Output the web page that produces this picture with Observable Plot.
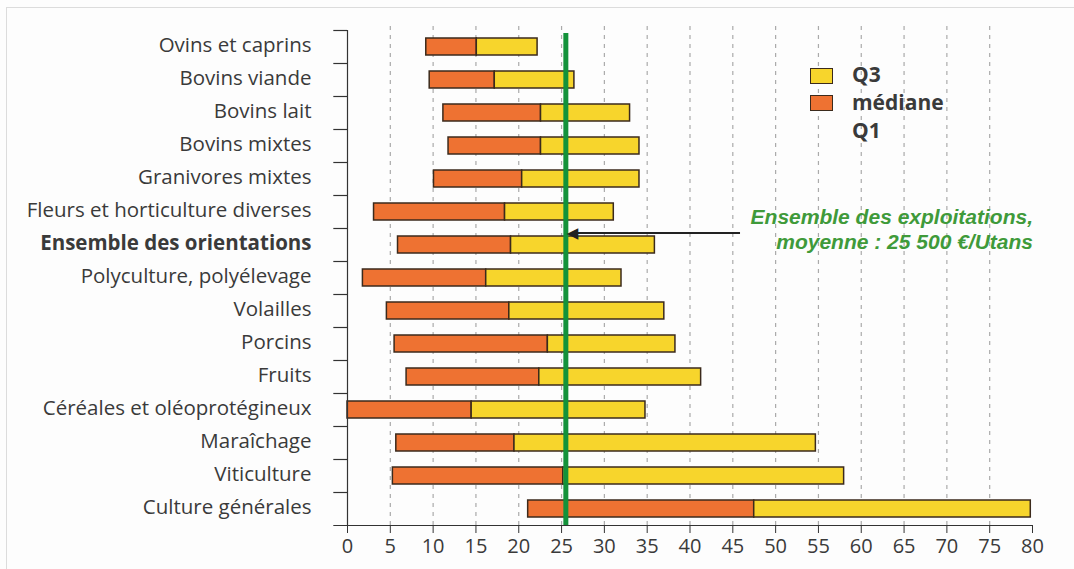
<!DOCTYPE html>
<html>
<head>
<meta charset="utf-8">
<script src="https://cdn.jsdelivr.net/npm/d3@7"></script>
<script src="https://cdn.jsdelivr.net/npm/@observablehq/plot@0.6"></script>
<style>
  html, body { margin: 0; padding: 0; background: #fdfdfd; }
  #wrap { position: relative; width: 1074px; height: 569px; overflow: hidden; font-family: "Open Sans", sans-serif; }
  #frame { position: absolute; left: 6px; top: 7px; right: -10px; bottom: -10px; border-left: 1px solid #dcdcdc; border-top: 1px solid #dcdcdc; pointer-events: none; }
  .lg { position: absolute; font-weight: bold; font-size: 21px; color: #3a3a3a; line-height: 1; }
  .sw { position: absolute; width: 23px; border: 1.5px solid #3b2a1c; box-sizing: border-box; }
  .note { position: absolute; right: 41px; text-align: right; color: #3f9a3a; font-family: "Liberation Sans", Arial, sans-serif; font-style: italic; font-weight: bold; font-size: 21px; line-height: 1; white-space: nowrap; }
</style>
</head>
<body>
<div id="wrap">
  <div id="chart"></div>
  <div id="frame"></div>
  <div class="sw" style="left:810px; top:68px; height:16px; background:#f7d52c;"></div>
  <div class="sw" style="left:810px; top:95px; height:16px; background:#ee7232;"></div>
  <div class="lg" style="left:852px; top:64px;">Q3</div>
  <div class="lg" style="left:852px; top:92px;">médiane</div>
  <div class="lg" style="left:852px; top:120px;">Q1</div>
  <div class="note" style="top:206px;">Ensemble des exploitations,</div>
  <div class="note" style="top:231px;">moyenne : 25 500 €/Utans</div>
</div>
<script>
const categories = [
  "Ovins et caprins", "Bovins viande", "Bovins lait", "Bovins mixtes",
  "Granivores mixtes", "Fleurs et horticulture diverses", "Ensemble des orientations",
  "Polyculture, polyélevage", "Volailles", "Porcins", "Fruits",
  "Céréales et oléoprotégineux", "Maraîchage", "Viticulture", "Culture générales"
];
const q1 =      [9.2, 9.6, 11.2, 11.8, 10.1, 3.1, 5.9, 1.8, 4.6, 5.5, 6.9, 0.0, 5.7, 5.3, 21.1];
const median =  [15.1, 17.2, 22.6, 22.6, 20.4, 18.4, 19.1, 16.2, 18.9, 23.4, 22.4, 14.5, 19.5, 25.2, 47.5];
const q3 =      [22.2, 26.5, 33.0, 34.1, 34.1, 31.1, 35.9, 32.0, 37.0, 38.3, 41.3, 34.8, 54.7, 58.0, 79.8];
const average = 25.5;
const xTicks = d3.range(0, 81, 5);
const gridTicks = d3.range(5, 80, 5);
const highlight = "Ensemble des orientations";
const arrowFrom = 45.9;

const rows = categories.map((c, i) => ({cat: c, q1: q1[i], med: median[i], q3: q3[i]}));

const W = 1074, H = 569, MT = 30, MB = 44, ML = 347, MR = 42;
const step = (H - MT - MB) / categories.length;
const textColor = "#3a3a3a";
const edge = "#3b2a1c";

const chart = Plot.plot({
  width: W, height: H,
  marginTop: MT, marginBottom: MB, marginLeft: ML, marginRight: MR,
  style: {background: "transparent", fontFamily: "'Open Sans', sans-serif", color: textColor},
  x: {domain: [0, 80]},
  y: {domain: categories, padding: 0},
  marks: [
    // dashed vertical grid
    Plot.ruleX(gridTicks, {stroke: "#aaaaaa", strokeDasharray: "4,5", strokeWidth: 1.2, insetTop: -4}),
    // bars Q1 -> median
    Plot.barX(rows, {y: "cat", x1: "q1", x2: "med", fill: "#ee7232", stroke: edge, strokeWidth: 1.5, insetTop: 8, insetBottom: 8}),
    // bars median -> Q3
    Plot.barX(rows, {y: "cat", x1: "med", x2: "q3", fill: "#f7d52c", stroke: edge, strokeWidth: 1.5, insetTop: 8, insetBottom: 8}),
    // average line
    Plot.ruleX([average], {stroke: "#13923a", strokeWidth: 5, insetTop: 3}),
    // y axis line
    Plot.ruleX([0], {stroke: "#333", strokeWidth: 1.2}),
    // y ticks at band boundaries
    Plot.ruleY(categories, {y: d => d, x1: -1.6, x2: 0, dy: -step / 2, stroke: "#333", strokeWidth: 1.2}),
    // x axis line at bottom
    Plot.ruleY([categories[categories.length - 1]], {x1: -1.6, x2: 80, dy: step / 2, stroke: "#333", strokeWidth: 1.2}),
    // arrow (line + filled head)
    Plot.ruleY([highlight], {y: d => d, x1: arrowFrom, x2: average + 1, dy: -12, stroke: "#222", strokeWidth: 1.8}),
    Plot.text([highlight], {y: d => d, x: average, text: () => "◀", dy: -12, dx: 1, textAnchor: "start", fontSize: 15, fill: "#222", fontFamily: "DejaVu Sans"}),
    // axes
    Plot.axisX({ticks: xTicks, tickSize: 8, tickPadding: 5, fontSize: 20, stroke: "#333", label: null, color: textColor}),
    Plot.axisY({tickSize: 0, tickPadding: 36, fontSize: 20.5, label: null, dy: -2})
  ]
});
d3.select(chart).selectAll("g[aria-label='y-axis tick label'] text")
  .filter(function() { return this.textContent === highlight; })
  .attr("font-weight", "bold");
document.getElementById("chart").appendChild(chart);
</script>
</body>
</html>
